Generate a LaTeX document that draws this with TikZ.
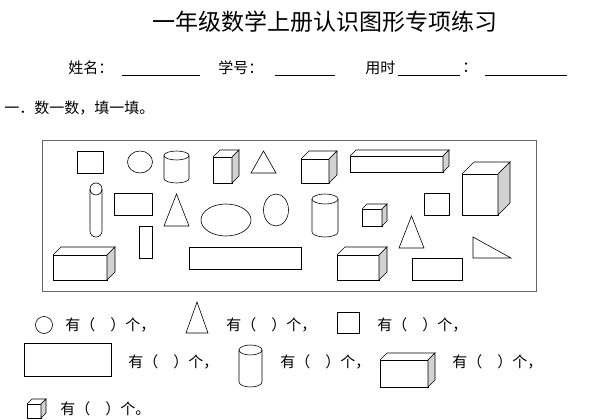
\documentclass[tikz,border=0pt]{standalone}
\usepackage{fontspec}
\newfontfamily\cjk{Noto Sans CJK SC}
\newcommand{\mycub}[5]{%
 \draw (#1,#2) rectangle ++(#3,#4);
 \draw (#1,#2) -- ++(#5,-#5) -- ++(#3,0) -- ({#1+#3},#2);
 \filldraw[fill=gray!35] ({#1+#3},#2) -- ++(#5,-#5) -- ++(0,#4) -- ++(-#5,#5) -- cycle;}
\newcommand{\mycyl}[5]{%
 \draw ({#1+#3/2},{#2+#5}) ellipse [x radius={#3/2}, y radius=#5];
 \draw (#1,{#2+#5}) -- (#1,{#2+#4-#5}) arc[start angle=180,end angle=0,x radius={#3/2},y radius=#5] -- ({#1+#3},{#2+#5});}
\newcommand{\mytri}[4]{\draw (#1,{#2+#4}) -- ({#1+#3/2},#2) -- ({#1+#3},{#2+#4}) -- cycle;}
\begin{document}
\begin{tikzpicture}[x=1pt,y=-1pt,line width=0.6pt,
  txt/.style={font=\cjk\fontsize{15}{15}\selectfont,anchor=west,inner sep=0pt}]
\useasboundingbox (0,0) rectangle (600,420);
\node (title) at (325,22) {\cjk\fontsize{23}{23}\selectfont 一年级数学上册认识图形专项练习};
\node[txt] (n1) at (68,68) {姓名：};
\draw (122,75) -- (200,75);
\node[txt] (n2) at (218,68) {学号：};
\draw (275,75) -- (335,75);
\node[txt] (n3) at (365,68) {用时};
\draw (398,75) -- (460,75);
\node[txt] (n4) at (462,68) {：};
\draw (485,75) -- (567,75);
\node[txt] (q1) at (4,108) {一．数一数，填一填。};
\draw[gray!80!black,line width=1pt] (42,140) rectangle (536,291);
% row 1
\draw (77,151) rectangle (103,173);
\draw (140,162) ellipse [x radius=12.5,y radius=11];
\mycyl{164}{151}{25}{32}{4.5}
\mycub{213}{157}{19}{26}{7}
\mytri{251}{151}{25}{22}
\mycub{301}{159}{28}{24}{8}
\mycub{350}{156}{93}{16}{6}
\mycub{462}{174}{36}{41}{12}
% row 2
\draw (96,189) circle[radius=6];
\draw (90,189) -- (90,231) arc[start angle=180,end angle=0,radius=6] -- (102,189);
\draw (114,193) rectangle (152,215);
\mytri{164}{194}{25}{32}
\draw (226,220) ellipse [x radius=25,y radius=16];
\draw (276,210) ellipse [x radius=12.5,y radius=16];
\mycyl{312}{194}{26}{43}{5}
\mycub{362}{209}{20}{17}{5}
\draw (424,193) rectangle (449,215);
\mytri{399}{216}{25}{32}
% row 3
\draw (139,226) rectangle (152,258);
\mycub{53}{255}{54}{25}{8}
\draw (189,247) rectangle (301,269);
\mycub{337}{255}{42}{25}{8}
\draw (412,258) rectangle (462,280);
\draw (473,237) -- (473,258) -- (511,258) -- cycle;
% answers
\draw (44,325) circle[radius=8.5];
\node[txt] (a1) at (65,325) {有（　）个，};
\mytri{186}{302}{22}{31}
\node[txt] (a2) at (226,325) {有（　）个，};
\draw (337,312) rectangle (359,333);
\node[txt] (a3) at (377,325) {有（　）个，};
\draw (24,343) rectangle (111,376);
\node[txt] (a4) at (128,362) {有（　）个，};
\mycyl{239}{345}{23}{42}{5}
\node[txt] (a5) at (280,362) {有（　）个，};
\mycub{380}{360}{48}{27}{7}
\node[txt] (a6) at (452,362) {有（　）个，};
\mycub{27}{404}{14}{14}{5}
\node[txt] (a7) at (60,409) {有（　）个。};
\end{tikzpicture}
\end{document}
